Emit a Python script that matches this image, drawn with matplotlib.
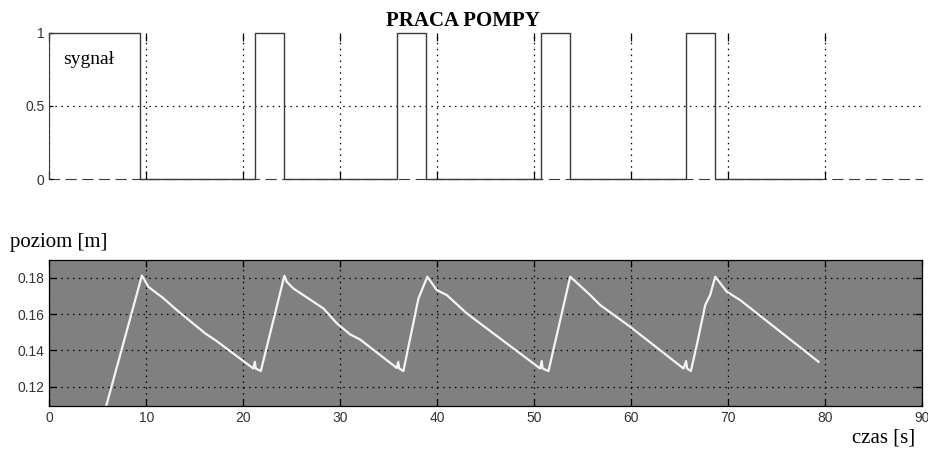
"""Pump operation signal and tank level (PRACA POMPY)."""
import matplotlib
matplotlib.use("Agg")
import matplotlib.pyplot as plt

# pump on/off signal: switching times [s] and state after each switch
signal_t = [0, 9.35, 21.2, 24.2, 35.85, 38.9, 50.7, 53.7, 65.7, 68.7, 79.6]
signal_v = [1, 0, 1, 0, 1, 0, 1, 0, 1, 0, 0]

# water level [m]
level_t = [5.85, 9.55, 9.75, 10.22, 11.25, 11.6, 13.15, 16.07, 17.27, 21.05,
           21.2, 21.3, 21.82, 24.25, 24.5, 25.18, 28.28, 29.66, 31.03, 32.06,
           35.85, 36.0, 36.1, 36.53, 38.08, 39.0, 39.98, 41.0, 43.07, 43.76,
           50.64, 50.8, 50.9, 51.5, 53.74, 55.8, 56.83, 59.93, 65.43, 65.7,
           65.8, 66.19, 66.8, 67.67, 68.18, 68.7, 69.9, 71.28, 79.36]
level_v = [0.1090, 0.1812, 0.1795, 0.1750, 0.1708, 0.1695, 0.1622, 0.1494,
           0.1451, 0.1300, 0.1337, 0.1300, 0.1286, 0.1811, 0.1778, 0.1741,
           0.1631, 0.1549, 0.1488, 0.1460, 0.1303, 0.1337, 0.1300, 0.1286,
           0.1686, 0.1806, 0.1732, 0.1705, 0.1604, 0.1576, 0.1300, 0.1341,
           0.1300, 0.1286, 0.1806, 0.1705, 0.1650, 0.1530, 0.1300, 0.1341,
           0.1300, 0.1286, 0.1429, 0.1650, 0.1705, 0.1806, 0.1723, 0.1677,
           0.1337]

top_yticks = [0, 0.5, 1]
top_ylabels = ["0", "0.5", "1"]
bottom_yticks = [0.12, 0.14, 0.16, 0.18]
xticks = list(range(0, 91, 10))

serif = "Liberation Serif"
sans = "Liberation Sans"
grid_style = dict(color="black", linestyle=(0, (1.2, 3.5)), linewidth=0.9)

fig = plt.figure(figsize=(9.29, 4.5), dpi=100)

# upper panel: pump signal
ax1 = fig.add_axes([0.0531, 0.6022, 0.939, 0.3245])
ax1.plot(signal_t, signal_v, drawstyle="steps-post", color="#3a3a3a", lw=1.0,
         zorder=3, clip_on=False)
ax1.set_xlim(0, 90)
ax1.set_ylim(0, 1)
ax1.set_xticks(xticks[:-1])
ax1.set_xticklabels([])
ax1.set_yticks(top_yticks)
ax1.set_yticklabels(top_ylabels, fontfamily=sans, fontsize=10, color="#333333")
ax1.tick_params(direction="in", top=True, length=6, width=0.9)
ax1.tick_params(axis="y", length=3)
ax1.grid(True, **grid_style)
ygrid = ax1.yaxis.get_gridlines()
ygrid[0].set_visible(False)
ygrid[2].set_visible(False)
for s in ["top", "right"]:
    ax1.spines[s].set_visible(False)
ax1.spines["left"].set_color("#3a3a3a")
ax1.spines["bottom"].set_color("#3a3a3a")
ax1.spines["bottom"].set_linestyle((0, (9, 6)))
ax1.spines["bottom"].set_zorder(1)
ax1.text(1.45, 0.815, "sygnał", fontfamily=serif, fontsize=14, va="center")

# lower panel: water level
ax2 = fig.add_axes([0.0531, 0.0984, 0.939, 0.3238])
ax2.set_facecolor("#808080")
ax2.plot(level_t, level_v, color="#f4f4f4", lw=1.6)
ax2.set_xlim(0, 90)
ax2.set_ylim(0.1095, 0.1898)
ax2.set_xticks(xticks)
ax2.set_xticklabels([str(x) for x in xticks], fontfamily=sans, fontsize=10,
                    color="#333333")
ax2.set_yticks(bottom_yticks)
ax2.set_yticklabels([f"{v:.2f}" for v in bottom_yticks], fontfamily=sans,
                    fontsize=10, color="#333333")
ax2.tick_params(direction="in", top=True, right=True, length=5, width=0.9)
ax2.grid(True, **grid_style)
for s in ax2.spines.values():
    s.set_color("black")
    s.set_linewidth(0.9)

fig.text(0.498, 0.954, "PRACA POMPY", fontfamily=serif, fontweight="bold",
         fontsize=15, ha="center", va="center")
fig.text(0.011, 1 - 242 / 450, "poziom [m]", fontfamily=serif, fontsize=15,
         ha="left", va="center")
fig.text(0.951, 0.027, "czas [s]", fontfamily=serif, fontsize=15,
         ha="center", va="center")

fig.savefig("out.png", dpi=100)
